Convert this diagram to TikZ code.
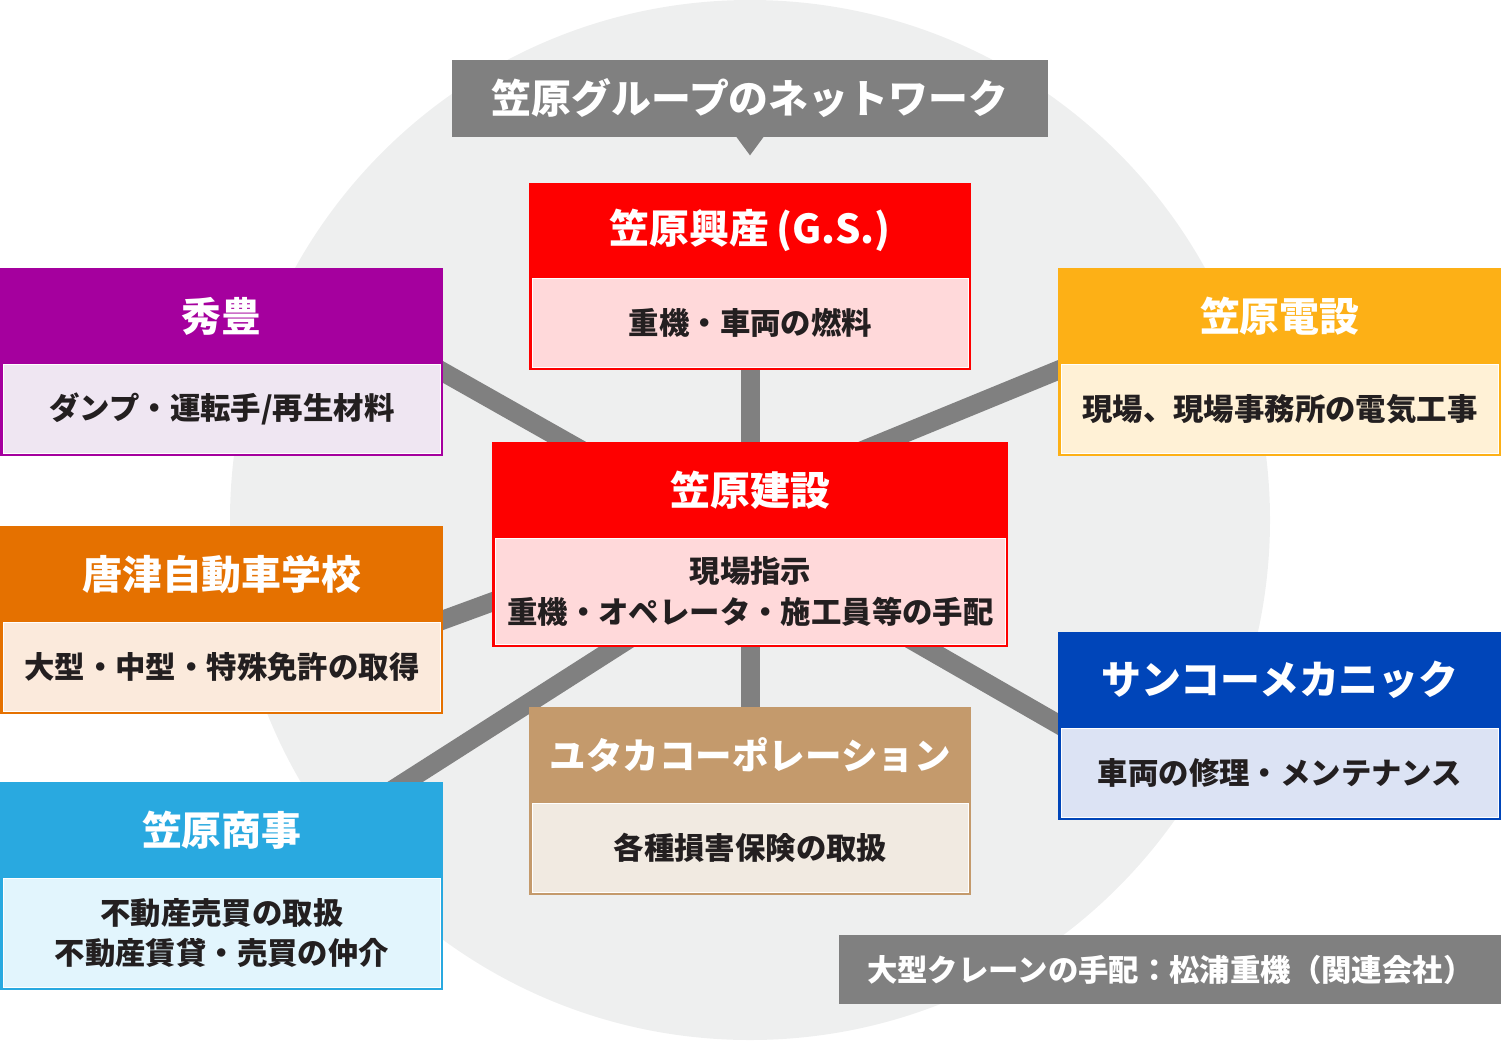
\documentclass[tikz,border=0pt]{standalone}
\usepackage{fontspec}
\setmainfont{Noto Sans CJK JP}
\usetikzlibrary{calc,backgrounds}
\definecolor{netgray}{HTML}{808080}
\definecolor{ringbg}{HTML}{EEEFEF}
\definecolor{inkdark}{HTML}{231F20}
\definecolor{kasa}{HTML}{FE0000}     \definecolor{kasa-lt}{HTML}{FFD9DA}
\definecolor{hide}{HTML}{A5009E}     \definecolor{hide-lt}{HTML}{EFE6F2}
\definecolor{densetsu}{HTML}{FDB016} \definecolor{densetsu-lt}{HTML}{FFF1D6}
\definecolor{karatsu}{HTML}{E57100}  \definecolor{karatsu-lt}{HTML}{FBEADC}
\definecolor{sanko}{HTML}{0045B9}    \definecolor{sanko-lt}{HTML}{DCE3F4}
\definecolor{yutaka}{HTML}{C49A6C}   \definecolor{yutaka-lt}{HTML}{F1EAE1}
\definecolor{shoji}{HTML}{29A9E0}    \definecolor{shoji-lt}{HTML}{E2F5FD}
\newcommand{\px}{0.02cm}
\newcommand{\headfont}{\fontsize{22.7}{27}\selectfont\bfseries}
\newcommand{\bodyfont}{\fontsize{17.3}{23}\selectfont\bfseries}
\tikzset{
  link/.style={netgray,line width=19*\px},
  tagbox/.style={fill=netgray,text=white,inner sep=0pt},
  headtext/.style={text=white,font=\headfont,inner sep=0pt},
  bodytext/.style={text=inkdark,font=\bodyfont,align=center,inner sep=0pt},
}
% #1 name, #2 left, #3 top, #4 width, #5 head height, #6 body height,
% #7 colour, #8 title, #9 body text
\newcommand{\firm}[9]{%
  \node[fill=#7,inner sep=0pt,anchor=north west,
        minimum width=#4*\px,minimum height=(#5+#6)*\px] (#1) at (#2,#3) {};
  \node[fill=#7-lt,draw=white,line width=0.5pt,inner sep=0pt,anchor=south west,
        minimum width=(#4-6)*\px,minimum height=(#6-3)*\px] (#1-b)
        at ($(#1.south west)+(3,-3)$) {};
  \node[headtext] (#1-t) at ($(#1.north)+(0,#5/2)$) {#8};
  \node[bodytext] (#1-d) at (#1-b.center) {#9};
}

\begin{document}
\begin{tikzpicture}[x=\px,y=-\px]
\useasboundingbox (0,0) rectangle (1501,1042);

%% ---------------- grey disc and links ----------------
\begin{scope}[on background layer]
  \fill[ringbg] (750,520) circle (520);
  \coordinate (hide-end)     at (413,355);
  \coordinate (hide-mid)     at (597,459);
  \coordinate (densetsu-end) at (1088,358);
  \coordinate (densetsu-mid) at (854,454);
  \coordinate (karatsu-end)  at (413,631);
  \coordinate (karatsu-mid)  at (522,591);
  \coordinate (shoji-end)    at (380,798);
  \coordinate (shoji-mid)    at (643,630);
  \coordinate (sanko-end)    at (1084,739);
  \coordinate (sanko-mid)    at (896,631);
  \coordinate (kousan-end)   at (750,360);
  \coordinate (kousan-mid)   at (750,452);
  \coordinate (yutaka-end)   at (750,717);
  \coordinate (yutaka-mid)   at (750,637);
  \foreach \f in {hide,densetsu,karatsu,shoji,sanko,kousan,yutaka}
    \draw[link] (\f-end) -- (\f-mid);
\end{scope}

%% ---------------- title ----------------
\node[tagbox,font=\headfont,minimum width=596*\px,minimum height=77*\px]
  (title) at (750,98.5) {笠原グループのネットワーク};
\fill[netgray] ($(title.south)+(-14,-1)$) -- ($(title.south)+(14,-1)$)
  -- ($(title.south)+(0,18)$) -- cycle;

%% ---------------- companies ----------------
\firm{kousan}{529}{183}{442}{95}{92}{kasa}{笠原興産\,(G.S.)}{重機・車両の燃料}
\firm{hide}{0}{268}{443}{96}{92}{hide}{秀豊}{ダンプ・運転手/再生材料}
\firm{densetsu}{1058}{268}{443}{96}{92}{densetsu}{笠原電設}{現場、現場事務所の電気工事}
\firm{kensetsu}{492}{442}{516}{96}{109}{kasa}{笠原建設}{現場指示\\重機・オペレータ・施工員等の手配}
\firm{karatsu}{0}{526}{443}{96}{92}{karatsu}{唐津自動車学校}{大型・中型・特殊免許の取得}
\firm{sanko}{1058}{632}{443}{96}{92}{sanko}{サンコーメカニック}{車両の修理・メンテナンス}
\firm{yutaka}{529}{707}{442}{96}{92}{yutaka}{{\fontsize{20.8}{25}\selectfont ユタカコーポレーション}}{各種損害保険の取扱}
\firm{shoji}{0}{782}{443}{96}{112}{shoji}{笠原商事}{不動産売買の取扱\\不動産賃貸・売買の仲介}

%% ---------------- note ----------------
\node[tagbox,font=\bodyfont,anchor=north west,minimum width=662*\px,minimum height=69*\px]
  (crane) at (839,935) {大型クレーンの手配：松浦重機（関連会社）};

\end{tikzpicture}
\end{document}
